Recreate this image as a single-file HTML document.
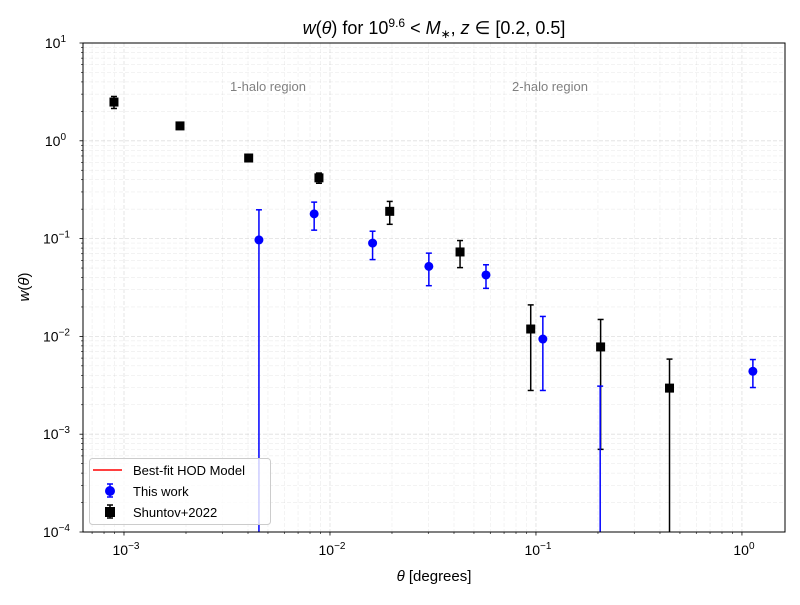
<!DOCTYPE html>
<html><head><meta charset="utf-8"><style>
body{margin:0;background:#fff;}
svg{font-family:"Liberation Sans","DejaVu Sans",sans-serif;}
</style></head><body>
<svg id="c" width="800" height="600" viewBox="0 0 800 600">
<rect width="800" height="600" fill="#fff"/>
<g id="grid"></g>
<g id="marks"></g>
<rect x="83" y="43" width="702" height="489" fill="none" stroke="#000" stroke-width="1"/>
<g id="ticks"></g>
<text x="268" y="91" font-size="13" fill="#808080" text-anchor="middle">1-halo region</text>
<text x="550" y="91" font-size="13" fill="#808080" text-anchor="middle">2-halo region</text>
<text x="434" y="34" font-size="18" text-anchor="middle"><tspan font-style="italic">w</tspan>(<tspan font-style="italic">θ</tspan>) for 10<tspan font-size="12" dy="-7">9.6</tspan><tspan dy="7"> &lt; </tspan><tspan font-style="italic">M</tspan><tspan font-size="12" dy="4">∗</tspan><tspan dy="-4">, </tspan><tspan font-style="italic">z</tspan> ∈ [0.2, 0.5]</text>
<text x="434" y="581" font-size="15" text-anchor="middle"><tspan font-style="italic">θ</tspan> [degrees]</text>
<text transform="translate(29,287) rotate(-90)" font-size="15" text-anchor="middle"><tspan font-style="italic">w</tspan>(<tspan font-style="italic">θ</tspan>)</text>
<g>
<rect x="89.5" y="458.5" width="181" height="66" rx="3" fill="#fff" fill-opacity="0.8" stroke="#ccc"/>
<line x1="93" y1="470" x2="122" y2="470" stroke="red" stroke-width="1.5"/>
<text x="133" y="475" font-size="13">Best-fit HOD Model</text>
<line x1="110" y1="484" x2="110" y2="497" stroke="blue" stroke-width="1.5"/>
<line x1="107" y1="484" x2="113" y2="484" stroke="blue" stroke-width="1.5"/>
<line x1="107" y1="497" x2="113" y2="497" stroke="blue" stroke-width="1.5"/>
<circle cx="110" cy="491" r="5" fill="blue"/>
<text x="133" y="496" font-size="13">This work</text>
<line x1="107" y1="505" x2="113" y2="505" stroke="#000" stroke-width="1.5"/>
<line x1="107" y1="518" x2="113" y2="518" stroke="#000" stroke-width="1.5"/>
<line x1="110" y1="505" x2="110" y2="518" stroke="#000" stroke-width="1.5"/>
<rect x="105" y="507" width="10" height="10" fill="#000"/>
<text x="133" y="517" font-size="13">Shuntov+2022</text>
</g>
</svg>
<script>
const blueTheta=[0.00452,0.00838,0.0161,0.0302,0.0572,0.108,0.205,1.13];
const blueW=[0.097,0.179,0.090,0.052,0.0425,0.0094,0.00005,0.0044];
const blueErr=[0.1,0.057,0.029,0.019,0.0115,0.0066,0.00305,0.0014];
const blackTheta=[0.000894,0.00187,0.00403,0.00884,0.0195,0.0428,0.0943,0.206,0.445];
const blackW=[2.49,1.42,0.667,0.418,0.19,0.073,0.0119,0.0078,0.00296];
const blackErr=[0.35,0.05,0.05,0.05,0.05,0.0225,0.0091,0.0071,0.0029];
const xTickExp=[-3,-2,-1,0];
const yTickExp=[1,0,-1,-2,-3,-4];

const X0=83,X1=785,Y0=43,Y1=532;
const LXMIN=-3.199,LXMAX=0.209,LYMIN=-4,LYMAX=1;
function xs(v){return X0+(Math.log10(v)-LXMIN)/(LXMAX-LXMIN)*(X1-X0);}
function ys(v){if(v<=0)return Y1+50;return Y1-(Math.log10(v)-LYMIN)/(LYMAX-LYMIN)*(Y1-Y0);}
const NS="http://www.w3.org/2000/svg";
function mk(tag,at,parent){const e=document.createElementNS(NS,tag);for(const k in at)e.setAttribute(k,at[k]);parent.appendChild(e);return e;}
const grid=document.getElementById('grid'),ticks=document.getElementById('ticks'),marks=document.getElementById('marks');
const defs=mk('defs',{},document.getElementById('c'));
const cp=mk('clipPath',{id:'clip'},defs);mk('rect',{x:X0,y:Y0,width:X1-X0,height:Y1-Y0},cp);
marks.setAttribute('clip-path','url(#clip)');
for(let e=-4;e<=0;e++){for(let m=1;m<10;m++){const v=m*Math.pow(10,e);const x=xs(v);if(x<X0||x>X1)continue;
 const g=mk('line',{x1:x,x2:x,y1:Y0,y2:Y1,stroke:'#b0b0b0','stroke-opacity':m==1?0.4:0.3,'stroke-dasharray':'4,2','stroke-width':m==1?0.8:0.5},grid);
 
 
 mk('line',{x1:x,x2:x,y1:Y1,y2:Y1+(m==1?3.5:2),stroke:'#000','stroke-width':m==1?0.8:0.6},ticks);}}
for(let e=-5;e<=1;e++){for(let m=1;m<10;m++){const v=m*Math.pow(10,e);const y=ys(v);if(y<Y0-0.1||y>Y1+0.1)continue;
 const g=mk('line',{x1:X0,x2:X1,y1:y,y2:y,stroke:'#b0b0b0','stroke-opacity':m==1?0.4:0.3,'stroke-dasharray':'4,2','stroke-width':m==1?0.8:0.5},grid);
 
 
 mk('line',{x1:X0,x2:X0-(m==1?3.5:2),y1:y,y2:y,stroke:'#000','stroke-width':m==1?0.8:0.6},ticks);}}
xTickExp.forEach(e=>{const t=mk('text',{x:xs(Math.pow(10,e))+2,y:555,'font-size':14,'text-anchor':'middle'},ticks);
 
 
 t.innerHTML='10<tspan font-size="10" dy="-6">'+(e<0?'−'+(-e):e)+'</tspan>';});
yTickExp.forEach(e=>{const t=mk('text',{x:e<0?70:66,y:ys(Math.pow(10,e))+5,'font-size':14,'text-anchor':'end'},ticks);
 
 
 t.innerHTML='10<tspan font-size="10" dy="-6">'+(e<0?'−'+(-e):e)+'</tspan>';});
function series(th,w,er,col,sq,name){
 th.forEach((t,i)=>{const x=xs(t);const yt=ys(w[i]+er[i]);const yb=ys(w[i]-er[i]);const y=ys(w[i]);
  const g=mk('g',{},marks);
  
  
  mk('line',{x1:x,x2:x,y1:yt,y2:yb,stroke:col,'stroke-width':1.5},g);
  mk('line',{x1:x-3,x2:x+3,y1:yt,y2:yt,stroke:col,'stroke-width':1.5},g);
  mk('line',{x1:x-3,x2:x+3,y1:yb,y2:yb,stroke:col,'stroke-width':1.5},g);
  if(sq)mk('rect',{x:x-4.5,y:y-4.5,width:9,height:9,fill:col},g);
  else mk('circle',{cx:x,cy:y,r:4.5,fill:col},g);});
}
series(blackTheta,blackW,blackErr,'#000',true,'shuntov');
series(blueTheta,blueW,blueErr,'blue',false,'this-work');
</script>
</body></html>
